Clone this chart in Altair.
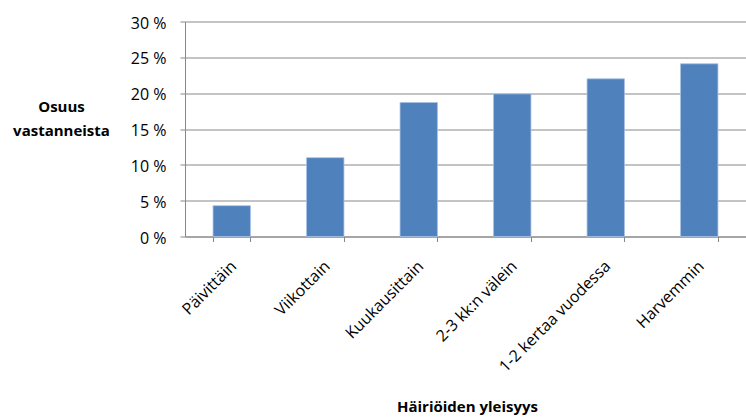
import altair as alt
import pandas as pd

# Survey: how often disturbances occur, share of respondents (%)
categories = [
    "Päivittäin",
    "Viikottain",
    "Kuukausittain",
    "2-3 kk:n välein",
    "1-2 kertaa vuodessa",
    "Harvemmin",
]
shares = [4.3, 11.0, 18.7, 19.9, 22.0, 24.1]
y_ticks = [0, 5, 10, 15, 20, 25, 30]

df = pd.DataFrame({"category": categories, "share": shares})

FONT = "Open Sans"
GRID = "#888888"
PLOT_W = 561
PLOT_H = 215

bars = alt.Chart(df).mark_bar(
    color="#4F81BD", stroke="#A7C1E3", strokeWidth=0.8
).encode(
    x=alt.X(
        "category:N",
        sort=categories,
        scale=alt.Scale(paddingInner=0.6, paddingOuter=0.3),
        axis=alt.Axis(
            title="Häiriöiden yleisyys",
            titleFont=FONT,
            titleFontSize=15,
            titleFontWeight="bold",
            titleColor="#000000",
            titleX=282,
            titleY=175,
            titleAlign="center",
            titleBaseline="alphabetic",
            labelAngle=-45,
            labelAlign="right",
            labelBaseline="top",
            labelFont=FONT,
            labelFontSize=16,
            labelColor="#000000",
            labelPadding=16,
            labelOffset=-4,
            tickBand="extent",
            tickSize=5,
            tickColor=GRID,
            domainColor=GRID,
            grid=False,
        ),
    ),
    y=alt.Y(
        "share:Q",
        scale=alt.Scale(domain=[0, 30], nice=False),
        axis=alt.Axis(
            title=["Osuus", "vastanneista"],
            titleFont=FONT,
            titleFontSize=15,
            titleFontWeight="bold",
            titleColor="#000000",
            titleAngle=0,
            titleAlign="center",
            titleBaseline="alphabetic",
            titleLineHeight=24,
            titleX=-124,
            titleY=90,
            values=y_ticks,
            labelExpr="datum.value + ' %'",
            labelFont=FONT,
            labelFontSize=16,
            labelColor="#000000",
            labelPadding=14,
            labelOffset=1.5,
            tickSize=5,
            tickColor=GRID,
            domainColor=GRID,
            gridColor=GRID,
            gridWidth=1,
        ),
    ),
)

chart = bars.properties(
    width=PLOT_W,
    height=PLOT_H,
    autosize=alt.AutoSizeParams(type="none"),
    padding={"left": 185, "top": 21.5, "right": 0, "bottom": 180.5},
    background="#FFFFFF",
).configure_view(stroke=None)

chart.save("out.html", embed_options={"renderer": "svg", "actions": False})
